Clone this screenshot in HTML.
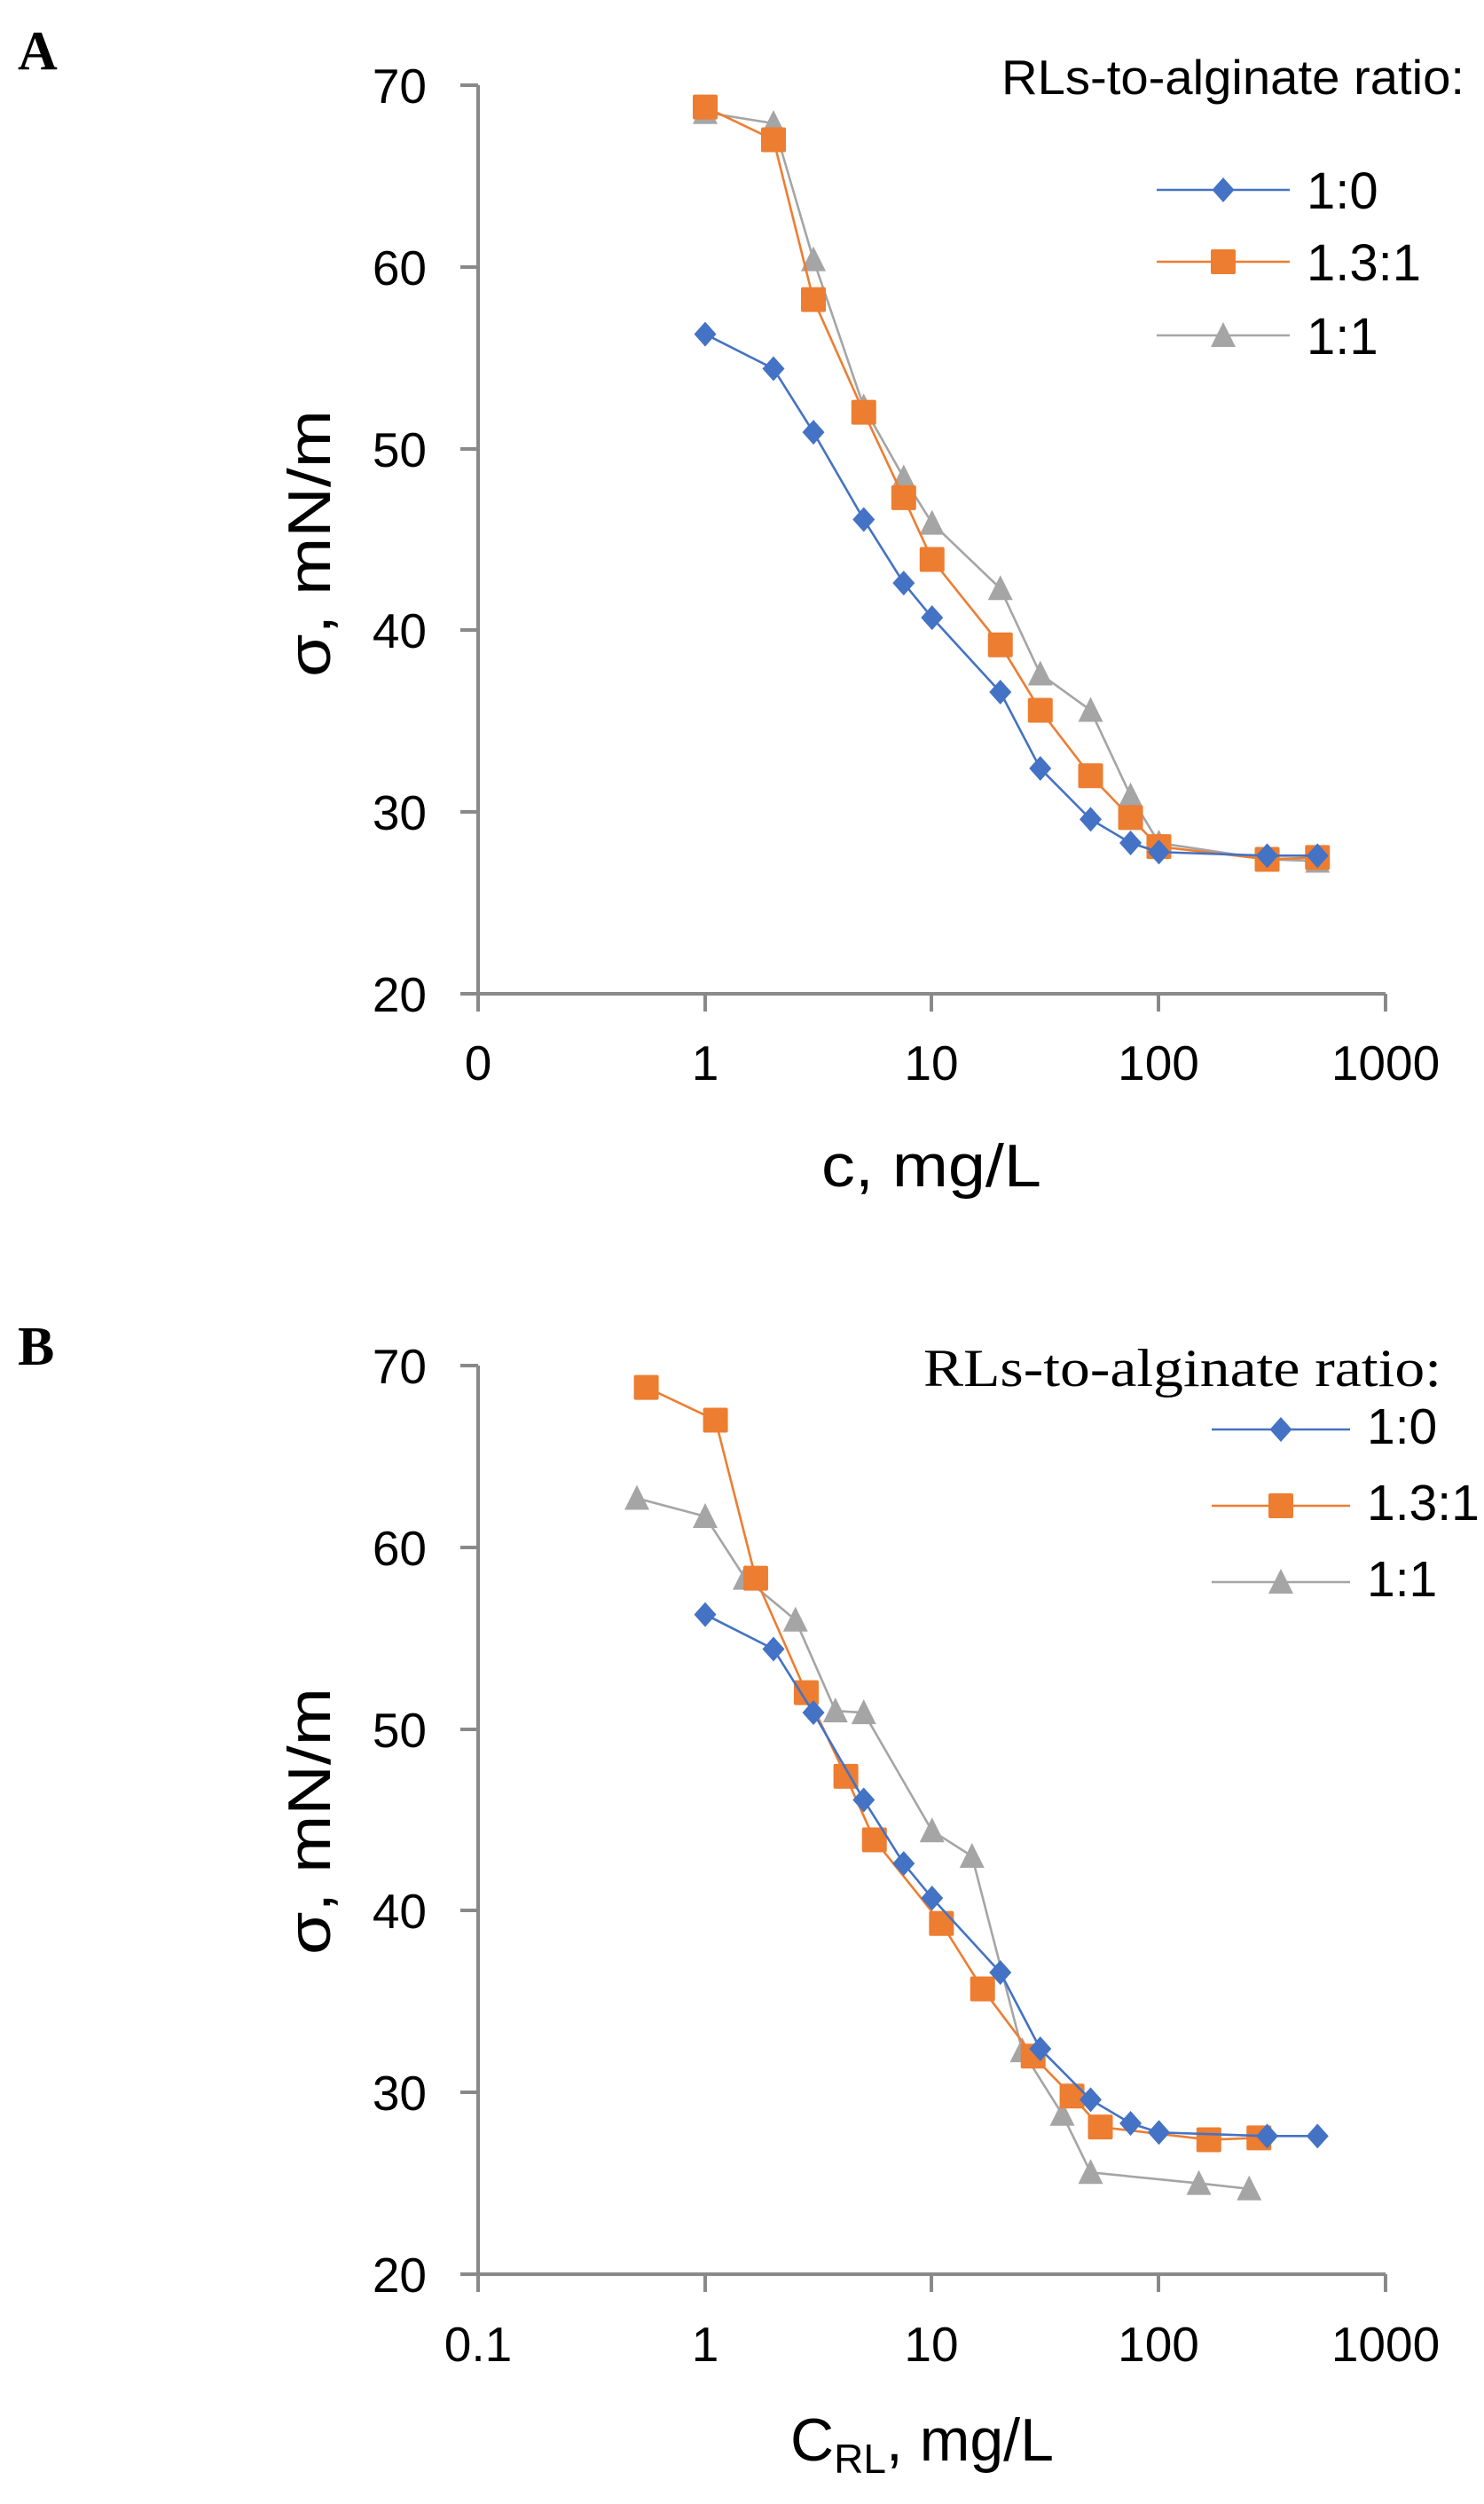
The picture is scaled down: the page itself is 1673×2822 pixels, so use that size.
<!DOCTYPE html>
<html><head><meta charset="utf-8">
<style>
html,body{margin:0;padding:0;background:#fff;}
svg{display:block;}
text{font-family:"Liberation Sans",sans-serif;fill:#000;}
.serif{font-family:"Liberation Serif",serif;}
</style></head>
<body>
<svg id="s" width="1673" height="2822" viewBox="0 0 1673 2822" xmlns="http://www.w3.org/2000/svg">
<rect width="1673" height="2822" fill="#fff"/>
<!-- Panel A -->
<text class="serif" x="20" y="78" font-size="62" font-weight="bold">A</text>
<g stroke="#898989" stroke-width="4" fill="none">
<line x1="539" y1="96" x2="539" y2="1140"/>
<line x1="519" y1="1120" x2="1562" y2="1120"/>
<line x1="519" y1="96" x2="539" y2="96"/><line x1="519" y1="301" x2="539" y2="301"/><line x1="519" y1="506" x2="539" y2="506"/><line x1="519" y1="710" x2="539" y2="710"/><line x1="519" y1="915" x2="539" y2="915"/>
<line x1="795" y1="1120" x2="795" y2="1140"/><line x1="1050" y1="1120" x2="1050" y2="1140"/><line x1="1306" y1="1120" x2="1306" y2="1140"/><line x1="1562" y1="1120" x2="1562" y2="1140"/>
</g>
<g font-size="55" text-anchor="end">
<text x="481" y="116">70</text><text x="481" y="321">60</text><text x="481" y="526">50</text><text x="481" y="730">40</text><text x="481" y="935">30</text><text x="481" y="1140">20</text>
</g>
<g font-size="55" text-anchor="middle">
<text x="539" y="1217">0</text><text x="795" y="1217">1</text><text x="1050" y="1217">10</text><text x="1306" y="1217">100</text><text x="1562" y="1217">1000</text>
</g>
<text x="926" y="1337" font-size="68" textLength="248" lengthAdjust="spacingAndGlyphs">c,  mg/L</text>
<text transform="translate(372,763) rotate(-90)" font-size="68" textLength="301" lengthAdjust="spacingAndGlyphs">σ,  mN/m</text>
<text x="1129" y="106" font-size="55" textLength="522" lengthAdjust="spacingAndGlyphs">RLs-to-alginate ratio:</text>
<g font-size="58">
<text x="1473" y="235">1:0</text><text x="1473" y="316">1.3:1</text><text x="1473" y="399">1:1</text>
</g>
<!-- Panel B -->
<text class="serif" x="20" y="1538" font-size="62" font-weight="bold">B</text>
<g stroke="#898989" stroke-width="4" fill="none">
<line x1="539" y1="1539" x2="539" y2="2583"/>
<line x1="519" y1="2563" x2="1562" y2="2563"/>
<line x1="519" y1="1539" x2="539" y2="1539"/><line x1="519" y1="1744" x2="539" y2="1744"/><line x1="519" y1="1949" x2="539" y2="1949"/><line x1="519" y1="2153" x2="539" y2="2153"/><line x1="519" y1="2358" x2="539" y2="2358"/>
<line x1="795" y1="2563" x2="795" y2="2583"/><line x1="1050" y1="2563" x2="1050" y2="2583"/><line x1="1306" y1="2563" x2="1306" y2="2583"/><line x1="1562" y1="2563" x2="1562" y2="2583"/>
</g>
<g font-size="55" text-anchor="end">
<text x="481" y="1559">70</text><text x="481" y="1764">60</text><text x="481" y="1969">50</text><text x="481" y="2173">40</text><text x="481" y="2378">30</text><text x="481" y="2583">20</text>
</g>
<g font-size="55" text-anchor="middle">
<text x="539" y="2661">0.1</text><text x="795" y="2661">1</text><text x="1050" y="2661">10</text><text x="1306" y="2661">100</text><text x="1562" y="2661">1000</text>
</g>
<text x="891" y="2773" font-size="68">C<tspan font-size="46" dy="14">RL</tspan><tspan dy="-14">,  mg/L</tspan></text>
<text transform="translate(372,2203) rotate(-90)" font-size="68" textLength="301" lengthAdjust="spacingAndGlyphs">σ,  mN/m</text>
<text class="serif" x="1041" y="1562" font-size="60" textLength="584" lengthAdjust="spacingAndGlyphs">RLs-to-alginate ratio:</text>
<g font-size="57">
<text x="1541" y="1627">1:0</text><text x="1541" y="1713">1.3:1</text><text x="1541" y="1799">1:1</text>
</g>
<g id="plots"></g>
</svg>
<script>
(function(){
var NS="http://www.w3.org/2000/svg",g=document.getElementById("plots");
function mk(tag,a){var e=document.createElementNS(NS,tag);for(var k in a)e.setAttribute(k,a[k]);g.appendChild(e);return e;}
var C={b:"#4472C4",o:"#ED7D31",g:"#A5A5A5"};
function marker(t,x,y){
 if(t=="b")mk("polygon",{points:(x)+","+(y-14)+" "+(x+12.5)+","+y+" "+x+","+(y+14)+" "+(x-12.5)+","+y,fill:C.b});
 else if(t=="o")mk("rect",{x:x-14,y:y-14,width:28,height:28,rx:2,fill:C.o});
 else mk("polygon",{points:x+","+(y-15)+" "+(x+14)+","+(y+13)+" "+(x-14)+","+(y+13),fill:C.g});
}
function series(t,xs,ys,xoff,top){
 var pts=[];for(var i=0;i<xs.length;i++){var x=xoff(xs[i]),y=top+(70-ys[i])*20.48;pts.push([x,y]);}
 mk("polyline",{points:pts.map(function(p){return p.join(",")}).join(" "),fill:"none",stroke:C[t],"stroke-width":2.6});
 pts.forEach(function(p){marker(t,p[0],p[1]);});
}
function XA(v){return 795+255.75*Math.log10(v);}
var xa=[1,2,3,5,7.5,10,20,30,50,75,100,300,500];
series("g",xa,[68.5,67.9,60.4,52.3,48.4,45.9,42.3,37.6,35.6,30.9,28.3,27.4,27.3],XA,96);
series("o",xa,[68.8,67.0,58.2,52.0,47.3,43.9,39.2,35.6,32.0,29.7,28.1,27.4,27.5],XA,96);
series("b",xa,[56.3,54.4,50.9,46.1,42.6,40.7,36.6,32.4,29.6,28.3,27.8,27.6,27.6],XA,96);
[["b",214],["o",295],["g",378]].forEach(function(l){mk("line",{x1:1304,y1:l[1],x2:1454,y2:l[1],stroke:C[l[0]],"stroke-width":2.6});marker(l[0],1379,l[1]);});
series("g",[0.5,1,1.5,2.5,3.75,5,10,15,25,37.5,50,150,250],[62.7,61.7,58.3,56.0,51.0,50.9,44.4,43.0,32.3,28.8,25.6,25.0,24.7],XA,1539);
series("o",[0.55,1.11,1.67,2.79,4.17,5.57,11.0,16.7,27.9,41.4,55.2,166,276],[68.8,67.0,58.3,52.0,47.4,43.9,39.3,35.7,32.0,29.8,28.1,27.4,27.5],XA,1539);
series("b",xa,[56.3,54.4,50.9,46.1,42.6,40.7,36.6,32.4,29.6,28.3,27.8,27.6,27.6],XA,1539);
[["b",1611],["o",1697],["g",1783]].forEach(function(l){mk("line",{x1:1366,y1:l[1],x2:1522,y2:l[1],stroke:C[l[0]],"stroke-width":2.6});marker(l[0],1444,l[1]);});
})();
</script>
</body></html>
